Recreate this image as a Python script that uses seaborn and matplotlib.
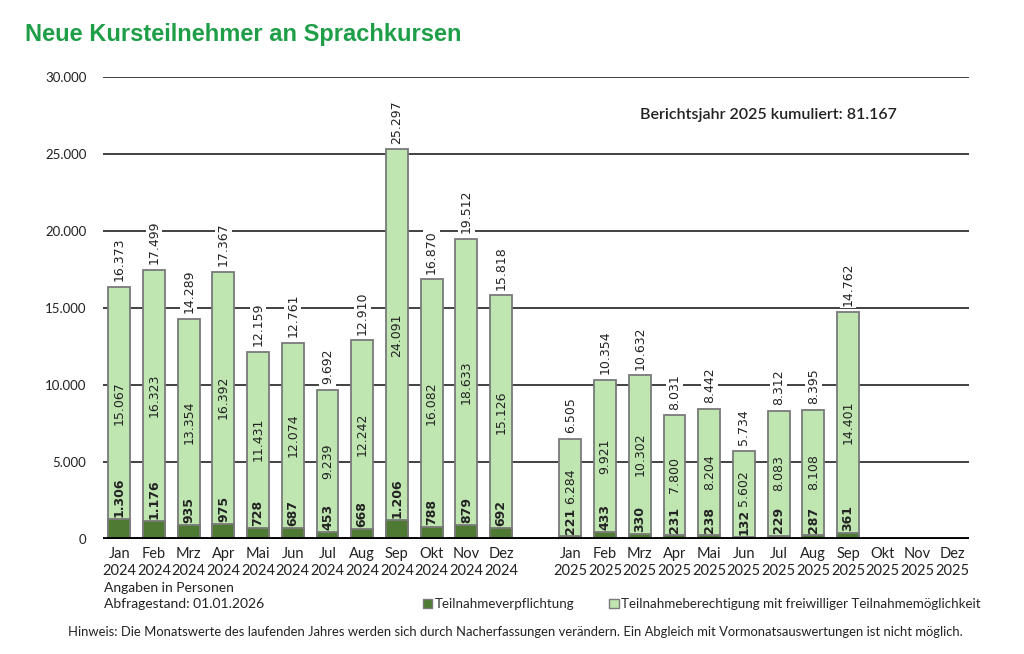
import numpy as np
import pandas as pd
import matplotlib
matplotlib.use("Agg")
import matplotlib.pyplot as plt
from matplotlib.patches import Patch
import seaborn as sns

# Monatswerte (Angaben in Personen)
months = ["Jan", "Feb", "Mrz", "Apr", "Mai", "Jun", "Jul", "Aug", "Sep", "Okt", "Nov", "Dez"]
pflicht_2024 = [1306, 1176, 935, 975, 728, 687, 453, 668, 1206, 788, 879, 692]
berecht_2024 = [15067, 16323, 13354, 16392, 11431, 12074, 9239, 12242, 24091, 16082, 18633, 15126]
gesamt_2024 = [16373, 17499, 14289, 17367, 12159, 12761, 9692, 12910, 25297, 16870, 19512, 15818]
pflicht_2025 = [221, 433, 330, 231, 238, 132, 229, 287, 361]
berecht_2025 = [6284, 9921, 10302, 7800, 8204, 5602, 8083, 8108, 14401]
gesamt_2025 = [6505, 10354, 10632, 8031, 8442, 5734, 8312, 8395, 14762]

LIGHT = "#bfe6b1"
DARK = "#4f7a34"
EDGE = "#7a7a7a"
TITLE_GREEN = "#1f9e48"
TXT = "#222222"


def fmt(v):
    return f"{v:,}".replace(",", ".")


def main():
    sns.set_theme(style="white")
    plt.rcParams["font.family"] = ["Lato", "DejaVu Sans"]

    # category order with one empty slot between the two years
    order = [f"{m}\n2024" for m in months] + [" "] + [f"{m}\n2025" for m in months]
    rows = []
    for i in range(len(gesamt_2024)):
        rows.append((f"{months[i]}\n2024", pflicht_2024[i], berecht_2024[i], gesamt_2024[i]))
    for i in range(len(gesamt_2025)):
        rows.append((f"{months[i]}\n2025", pflicht_2025[i], berecht_2025[i], gesamt_2025[i]))
    df = pd.DataFrame(rows, columns=["monat", "pflicht", "berecht", "gesamt"])

    fig = plt.figure(figsize=(10.24, 6.54), dpi=100)
    ax = fig.add_axes([0.1006, 0.1758, 0.8461, 0.7064])

    sns.barplot(data=df, x="monat", y="gesamt", order=order, color=LIGHT,
                saturation=1, width=0.63, edgecolor=EDGE, linewidth=1.3, ax=ax, zorder=3)
    sns.barplot(data=df, x="monat", y="pflicht", order=order, color=DARK,
                saturation=1, width=0.63, edgecolor=EDGE, linewidth=1.3, ax=ax, zorder=3)

    ax.set_ylim(0, 30000)
    ax.set_xlim(-0.47, 24.5)
    yt = np.arange(0, 30001, 5000)
    ax.set_yticks(yt)
    ax.set_yticklabels([fmt(v) for v in yt], fontsize=9.5, color=TXT)
    ax.yaxis.grid(True, color="#333333", linewidth=1.3, zorder=0)
    ax.set_axisbelow(True)
    ax.axhline(0, color="black", linewidth=3.5, zorder=5)
    for s in ax.spines.values():
        s.set_visible(False)
    ax.tick_params(axis="y", length=0, pad=12)
    ax.tick_params(axis="x", length=0, pad=6)
    ax.set_xticks(range(len(order)))
    ax.set_xticklabels(order, fontsize=10.5, color=TXT, linespacing=1.2)
    ax.set_xlabel("")
    ax.set_ylabel("")

    # value labels
    pos = {lab: i for i, lab in enumerate(order)}
    pairs = []
    for _, r in df.iterrows():
        x = pos[r["monat"]]
        ax.annotate(fmt(r["gesamt"]), (x, r["gesamt"]), xytext=(0, 4), textcoords="offset points",
                    ha="center", va="bottom", rotation=90, fontsize=9, color=TXT,
                    family="DejaVu Sans", zorder=6,
                    bbox=dict(boxstyle="square,pad=0.15", fc="white", ec="none"))
        mid = ax.text(x, (r["pflicht"] + r["gesamt"]) / 2, fmt(r["berecht"]), ha="center",
                      va="center", rotation=90, fontsize=9, color=TXT,
                      family="DejaVu Sans", zorder=6)
        bot = ax.annotate(fmt(r["pflicht"]), (x, r["pflicht"]), xytext=(0, 1.5),
                          textcoords="offset points", ha="center", va="bottom", rotation=90,
                          fontsize=9, color=TXT, fontweight="bold", family="DejaVu Sans", zorder=6)
        pairs.append((mid, bot))

    # push the middle label up where it would run into the bottom label
    fig.canvas.draw()
    inv = ax.transData.inverted()
    for mid, bot in pairs:
        bm = mid.get_window_extent()
        bb = bot.get_window_extent()
        if bm.y0 < bb.y1 + 3:
            cy = bb.y1 + 3 + bm.height / 2
            x0, _ = mid.get_position()
            mid.set_position((x0, inv.transform((0, cy))[1]))

    fig.text(0.024, 0.947, "Neue Kursteilnehmer an Sprachkursen", fontsize=17,
             fontweight="bold", color=TITLE_GREEN, family="Liberation Sans", va="center")
    ax.text(0.916, 0.918, "Berichtsjahr 2025 kumuliert: 81.167", transform=ax.transAxes,
            ha="right", va="center", fontsize=11.5, fontweight="semibold", color=TXT)

    fig.text(0.1016, 0.101, "Angaben in Personen", fontsize=10, color=TXT, va="center")
    fig.text(0.1016, 0.076, "Abfragestand: 01.01.2026", fontsize=10, color=TXT, va="center")
    fig.text(0.066, 0.034, "Hinweis: Die Monatswerte des laufenden Jahres werden sich durch Nacherfassungen "
             "verändern. Ein Abgleich mit Vormonatsauswertungen ist nicht möglich.",
             fontsize=9.4, color=TXT, va="center")

    handles = [Patch(facecolor=DARK, edgecolor=EDGE, label="Teilnahmeverpflichtung"),
               Patch(facecolor=LIGHT, edgecolor=EDGE,
                     label="Teilnahmeberechtigung mit freiwilliger Teilnahmemöglichkeit")]
    fig.legend(handles=handles, loc="center left", bbox_to_anchor=(0.413, 0.076), ncol=2,
               frameon=False, fontsize=9.6, handlelength=0.7, handleheight=0.7,
               handletextpad=0.2, columnspacing=2.6, borderaxespad=0, borderpad=0)

    fig.savefig("out.png", dpi=100)


if __name__ == "__main__":
    main()
